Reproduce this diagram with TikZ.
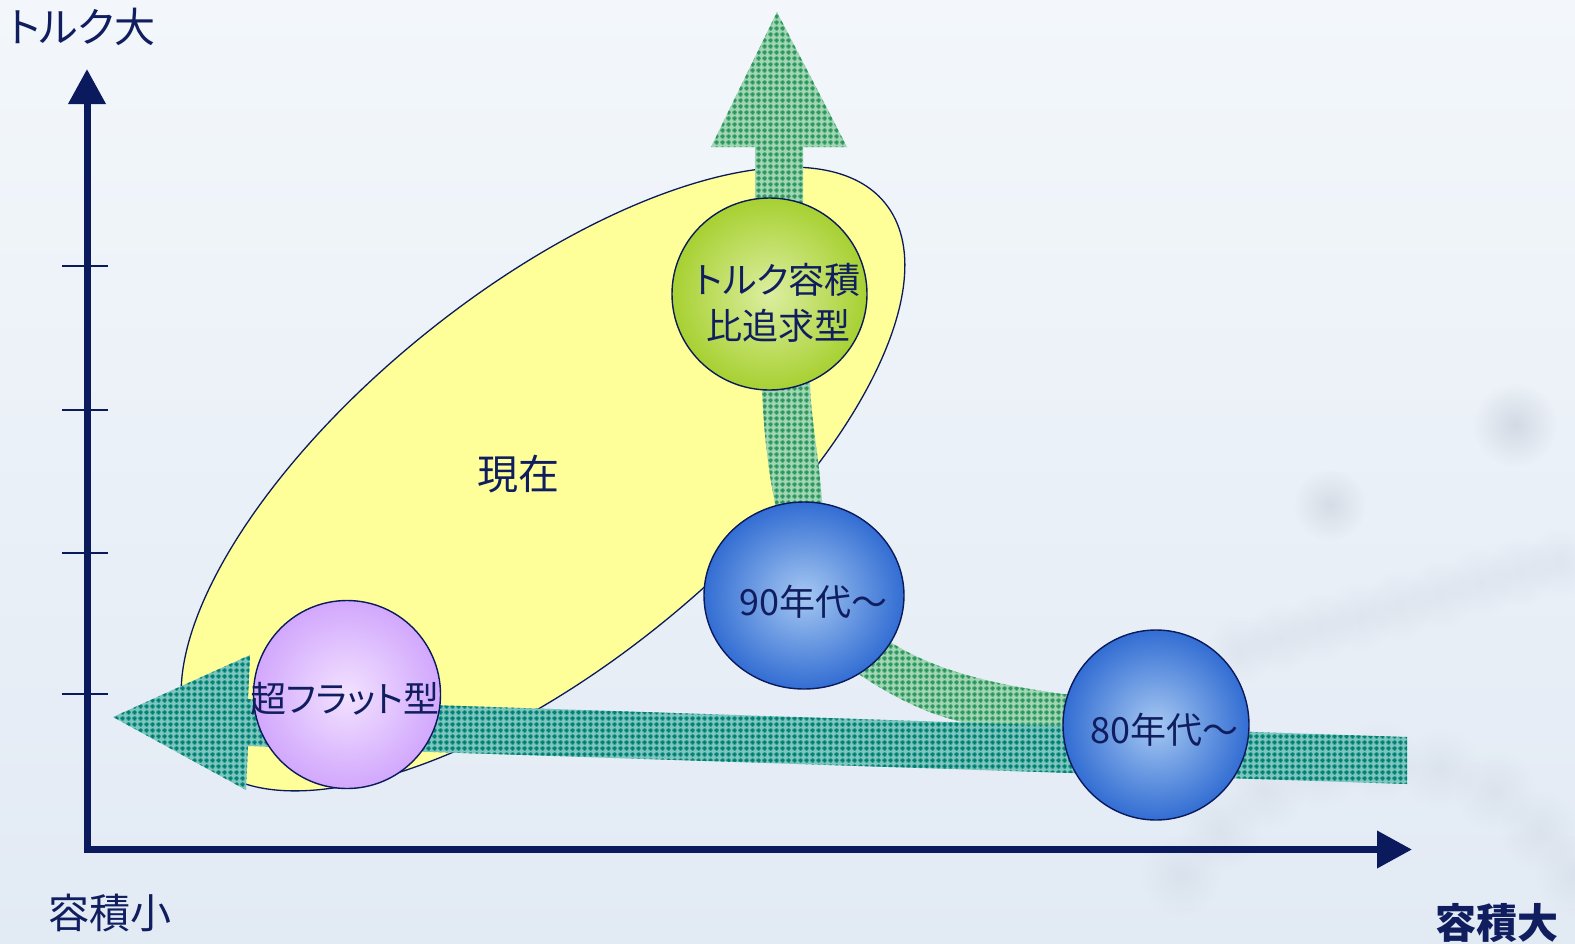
\documentclass[tikz,border=0pt]{standalone}
\usepackage{fontspec}
\setmainfont{Noto Sans CJK JP}[RawFeature=+palt]
\usetikzlibrary{arrows.meta,shapes.geometric,patterns.meta,fadings}
\definecolor{navy}{RGB}{10,26,92}
\definecolor{txt}{RGB}{16,30,96}
\definecolor{ylw}{RGB}{255,255,153}
\definecolor{bgT}{RGB}{243,247,251}
\definecolor{bgB}{RGB}{226,234,244}
\definecolor{blob}{RGB}{165,175,190}
\definecolor{tealD}{RGB}{0,128,116}
\definecolor{tealL}{RGB}{125,198,190}
\definecolor{grnD}{RGB}{44,150,92}
\definecolor{grnL}{RGB}{160,214,180}
\definecolor{bI}{RGB}{166,200,242}
\definecolor{bO}{RGB}{18,84,202}
\definecolor{gI}{RGB}{220,238,160}
\definecolor{gO}{RGB}{148,198,10}
\definecolor{pI}{RGB}{242,226,255}
\definecolor{pO}{RGB}{198,146,252}
\pgfdeclareradialshading{ballB}{\pgfpoint{0bp}{0bp}}{color(0bp)=(bI); color(32bp)=(bO); color(50bp)=(bO)}
\pgfdeclareradialshading{ballG}{\pgfpoint{0bp}{0bp}}{color(0bp)=(gI); color(34bp)=(gO); color(50bp)=(gO)}
\pgfdeclareradialshading{ballP}{\pgfpoint{0bp}{0bp}}{color(0bp)=(pI); color(34bp)=(pO); color(50bp)=(pO)}
\tikzfading[name=fuzzy, inner color=transparent!0, outer color=transparent!100]
\tikzdeclarepattern{
  name=crossgrid,
  type=uncolored,
  bounding box={(0pt,0pt) and (6pt,6pt)},
  tile size={(6pt,6pt)},
  code={
    \pgfpathrectangle{\pgfpoint{1.8pt}{0.5pt}}{\pgfpoint{2.4pt}{5pt}}
    \pgfpathrectangle{\pgfpoint{0.5pt}{1.8pt}}{\pgfpoint{5pt}{2.4pt}}
    \pgfusepath{fill}
  }
}
\tikzset{
  axl/.style={font=\fontsize{41pt}{48pt}\selectfont, text=txt, inner sep=0pt},
  ctx/.style={font=\fontsize{36pt}{46pt}\selectfont, text=txt, inner sep=0pt},
  ball/.style={ellipse, draw=navy, line width=1.4pt, inner sep=0pt, shade},
  tealband/.style={preaction={fill=tealL}, pattern={crossgrid}, pattern color=tealD},
  greenband/.style={preaction={fill=grnL}, pattern={crossgrid}, pattern color=grnD},
  tick/.style={draw=navy, line width=1.5pt},
  axis/.style={draw=navy, line width=7pt, line join=miter, {Triangle[length=35pt,width=36pt]}-{Triangle[length=35pt,width=36pt]}}
}
\begin{document}
\begin{tikzpicture}[x=1pt,y=-1pt]
\useasboundingbox (0,0) rectangle (1575,943);
% background
\shade[top color=bgT, bottom color=bgB] (0,0) rectangle (1575,943);
\foreach \px/\py/\r/\o in {1515/425/42/0.35, 1330/505/36/0.3,
  1240/650/34/0.15, 1280/638/34/0.15, 1320/627/34/0.15, 1360/616/34/0.15, 1400/605/34/0.15, 1440/594/34/0.15, 1480/583/34/0.15, 1520/572/34/0.15, 1560/562/34/0.15,
  1181/875/40/0.15, 1220/830/40/0.15, 1265/791/40/0.15, 1320/768/40/0.15, 1380/760/40/0.15, 1440/768/40/0.15, 1495/791/40/0.15, 1540/830/40/0.15, 1575/875/40/0.15}{
  \fill[blob, opacity=\o, path fading=fuzzy] (\px,\py) circle (\r);
}
% axes
\coordinate (ytip) at (87,69);
\coordinate (orig) at (87,849.5);
\coordinate (xtip) at (1412,849.5);
\draw[axis] (ytip) -- (orig) -- (xtip);
\foreach \ty in {266,410,553,694}{
  \draw[tick] (62,\ty) -- (108,\ty);
}
% yellow region
\node[ellipse, rotate=38.86, minimum width=879pt, minimum height=374pt, inner sep=0pt, fill=ylw, draw=navy, line width=1.3pt] (now) at (543,479) {};
\node[axl] (nowlbl) at (518,474) {現在};
% curved arrow
\path[greenband] (1130,696) -- (1063,694) .. controls (990,684) and (935,670) .. (892,643)
  .. controls (845,615) and (826,560) .. (822,500)
  .. controls (818,450) and (811,420) .. (810,383)
  .. controls (807,300) and (803,250) .. (803,198)
  -- (803,147) -- (847,147) -- (777,12) -- (711,147) -- (755,147) -- (755,198)
  .. controls (756,260) and (760,330) .. (762,390)
  .. controls (764,440) and (770,480) .. (775,503)
  .. controls (785,590) and (815,645) .. (860,675)
  .. controls (890,695) and (920,710) .. (947,718)
  .. controls (1000,733) and (1060,740) .. (1130,742) -- cycle;
% horizontal arrow
\path[tealband] (1407,737) -- (1407,784) -- (248,746) -- (246,790) -- (113,717) -- (250,655) -- (248,699) -- cycle;
% balls
\node[ball, shading=ballG, minimum width=195pt, minimum height=192pt] (cg) at (769.5,294) {};
\node[ball, shading=ballP, minimum width=187pt, minimum height=188pt] (cp) at (347,694.5) {};
\node[ball, shading=ballB, minimum width=200pt, minimum height=187pt] (c90) at (804,595.5) {};
\node[ball, shading=ballB, minimum width=186pt, minimum height=190pt] (c80) at (1156,725) {};
% ball labels
\node[ctx, align=center] (lg) at (778,303) {トルク容積\\比追求型};
\node[ctx] (lp) at (345,699) {超フラット型};
\node[ctx, anchor=base west] (l90) at (739,615) {90年代～};
\node[ctx, anchor=base west] (l80) at (1090,743) {80年代～};
% axis labels
\node[axl] (ly) at (82,27) {トルク大};
\node[axl] (lxs) at (110,913) {容積小};
\node[axl, font=\bfseries\fontsize{41pt}{48pt}\selectfont] (lxb) at (1497,923) {容積大};
\end{tikzpicture}
\end{document}
